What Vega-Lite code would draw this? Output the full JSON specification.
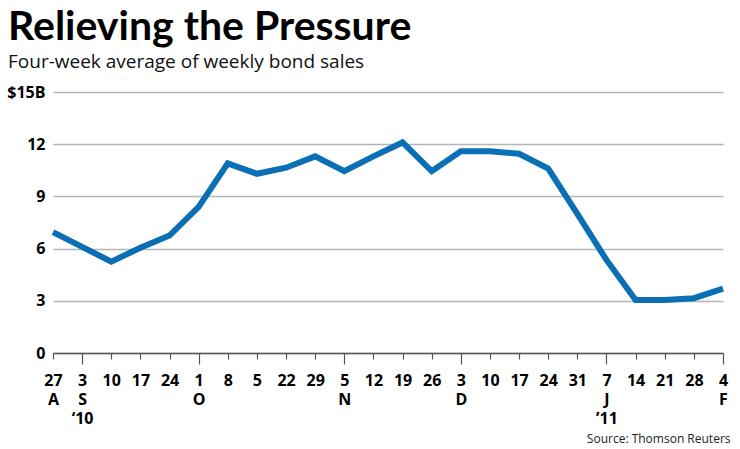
{
  "$schema": "https://vega.github.io/schema/vega-lite/v6.json",
  "width": 670,
  "height": 261,
  "autosize": {"type": "none"},
  "padding": {"left": 53, "top": 92, "right": 17, "bottom": 96},
  "background": "white",
  "title": {
    "text": "Relieving the Pressure",
    "subtitle": "Four-week average of weekly bond sales",
    "anchor": "start",
    "frame": "group",
    "dx": -45,
    "offset": 11,
    "font": "Lato",
    "fontSize": 41,
    "fontWeight": "bold",
    "color": "#000000",
    "subtitleFont": "Open Sans",
    "subtitleFontSize": 19,
    "subtitleColor": "#111111",
    "subtitlePadding": 4
  },
  "data": {
    "values": [
      {"week": "Aug 27", "sales": 6.95},
      {"week": "Sep 3", "sales": 6.1},
      {"week": "Sep 10", "sales": 5.25},
      {"week": "Sep 17", "sales": 6.05},
      {"week": "Sep 24", "sales": 6.75},
      {"week": "Oct 1", "sales": 8.4},
      {"week": "Oct 8", "sales": 10.9},
      {"week": "Oct 15", "sales": 10.3},
      {"week": "Oct 22", "sales": 10.65},
      {"week": "Oct 29", "sales": 11.3},
      {"week": "Nov 5", "sales": 10.45},
      {"week": "Nov 12", "sales": 11.3},
      {"week": "Nov 19", "sales": 12.1},
      {"week": "Nov 26", "sales": 10.45},
      {"week": "Dec 3", "sales": 11.6},
      {"week": "Dec 10", "sales": 11.6},
      {"week": "Dec 17", "sales": 11.45},
      {"week": "Dec 24", "sales": 10.6},
      {"week": "Dec 31", "sales": 8.0},
      {"week": "Jan 7", "sales": 5.35},
      {"week": "Jan 14", "sales": 3.05},
      {"week": "Jan 21", "sales": 3.05},
      {"week": "Jan 28", "sales": 3.15},
      {"week": "Feb 4", "sales": 3.7}
    ]
  },
  "mark": {"type": "line", "color": "#0b6fb6", "strokeWidth": 6, "strokeJoin": "miter"},
  "encoding": {
    "x": {
      "field": "week",
      "type": "ordinal",
      "sort": null,
      "scale": {"type": "point", "padding": 0},
      "axis": {
        "title": "Source: Thomson Reuters",
        "titleFont": "Open Sans",
        "titleFontSize": 12,
        "titleFontWeight": "normal",
        "titleColor": "#222222",
        "titleAnchor": "end",
        "titleAlign": "right",
        "titleBaseline": "alphabetic",
        "titleX": 677,
        "titleY": 89,
        "labelAngle": 0,
        "labelFont": "Open Sans",
        "labelFontSize": 16,
        "labelFontWeight": "bold",
        "labelColor": "#000000",
        "labelBaseline": "top",
        "labelLineHeight": 19,
        "labelAlign": "center",
        "labelExpr": "datum.value=='Aug 27' ? ['27','A'] : datum.value=='Sep 3' ? ['3','S','‘10'] : datum.value=='Oct 1' ? ['1','O'] : datum.value=='Oct 15' ? '5' : datum.value=='Nov 5' ? ['5','N'] : datum.value=='Dec 3' ? ['3','D'] : datum.value=='Jan 7' ? ['7','J','’11'] : datum.value=='Feb 4' ? ['4','F'] : split(datum.value,' ')[1]",
        "tickColor": "#555555",
        "tickWidth": 1.2,
        "tickSize": {"condition": {"test": "indexof(['Sep 3','Oct 1','Nov 5','Dec 3','Jan 7','Feb 4'], datum.value) >= 0", "value": 11}, "value": 6},
        "labelPadding": {"condition": {"test": "indexof(['Sep 3','Oct 1','Nov 5','Dec 3','Jan 7','Feb 4'], datum.value) >= 0", "value": 8}, "value": 13},
        "domainColor": "#555555",
        "domainWidth": 1.5,
        "grid": false
      }
    },
    "y": {
      "field": "sales",
      "type": "quantitative",
      "scale": {"domain": [0, 15], "nice": false},
      "axis": {
        "title": null,
        "values": [0, 3, 6, 9, 12, 15],
        "labelExpr": "datum.value == 15 ? '$15B' : datum.label",
        "labelFont": "Open Sans",
        "labelFontSize": 16,
        "labelFontWeight": "bold",
        "labelColor": "#000000",
        "labelPadding": 8,
        "labelBaseline": "middle",
        "ticks": false,
        "domain": false,
        "grid": true,
        "gridColor": "#b5b5b5",
        "gridWidth": 1.5
      }
    }
  },
  "config": {
    "view": {"stroke": null}
  }
}
